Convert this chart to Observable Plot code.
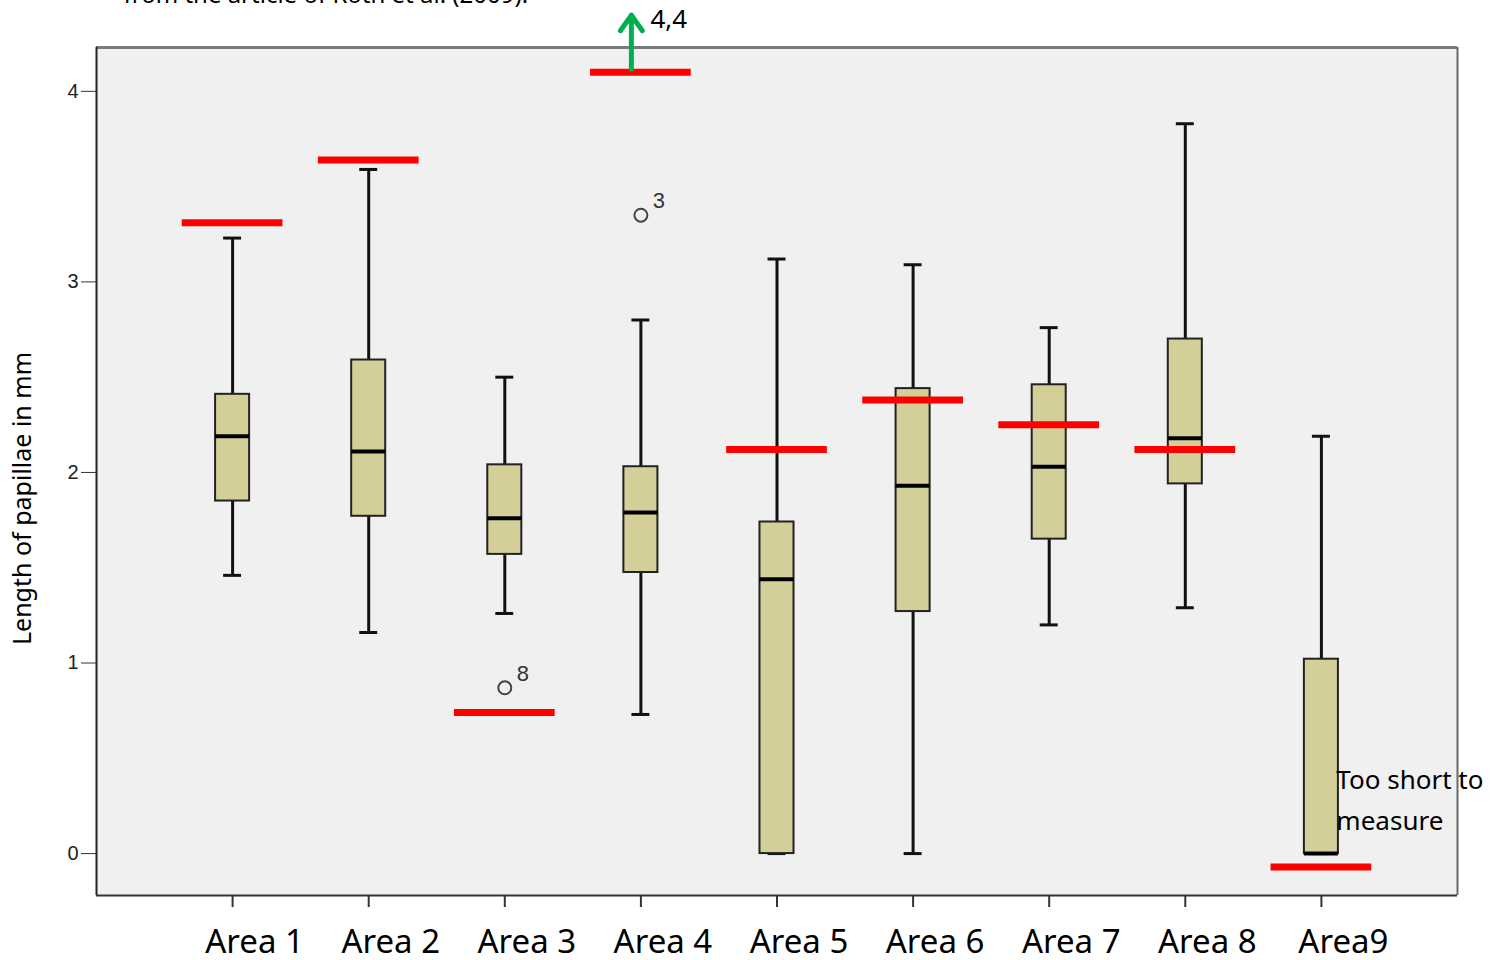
<!DOCTYPE html>
<html>
<head>
<meta charset="utf-8">
<script src="https://cdn.jsdelivr.net/npm/d3@7"></script>
<script src="https://cdn.jsdelivr.net/npm/@observablehq/plot@0.6"></script>
<style>
  html, body { margin: 0; padding: 0; background: #ffffff; overflow: hidden; }
  #chart svg { display: block; }
</style>
</head>
<body>
<div id="chart"></div>
<script>
// ---- data ----
const areas = ["Area 1", "Area 2", "Area 3", "Area 4", "Area 5", "Area 6", "Area 7", "Area 8", "Area9"];
const whiskerLow  = [1.46, 1.16, 1.26, 0.73, 0.00, 0.00, 1.20, 1.29, 0.00];
const quartile1   = [1.85, 1.77, 1.57, 1.475, 0.00, 1.27, 1.65, 1.94, 0.00];
const medians     = [2.19, 2.11, 1.76, 1.79, 1.44, 1.93, 2.03, 2.18, 0.00];
const quartile3   = [2.41, 2.59, 2.04, 2.03, 1.74, 2.44, 2.46, 2.70, 1.02];
const whiskerHigh = [3.23, 3.59, 2.50, 2.80, 3.12, 3.09, 2.76, 3.83, 2.19];
const referenceValues = [3.31, 3.64, 0.74, 4.10, 2.12, 2.38, 2.25, 2.12, -0.07];
const outlierArea  = [3, 4];
const outlierValue = [0.87, 3.35];
const outlierLabel = ["8", "3"];
const arrowArea = 4, arrowFrom = 4.10, arrowTo = 4.4, arrowLabel = "4,4";
const yTicks = [0, 1, 2, 3, 4];
const noteText = "Too short to\nmeasure";
const topNote = "from the article of Roth et al. (2009).";
const yTitle = "Length of papillae in mm";

const boxes = areas.map((name, k) => ({
  name, i: k + 1,
  low: whiskerLow[k], q1: quartile1[k], med: medians[k], q3: quartile3[k], high: whiskerHigh[k],
  ref: referenceValues[k]
}));
const outliers = outlierArea.map((a, k) => ({i: a, v: outlierValue[k], label: outlierLabel[k]}));

const W = 1494, H = 960;
const yMin = -0.22, yMax = 4.23;
const boxHalf = 0.125, capHalf = 0.066, refHalf = 0.37;
const FONT = "'Noto Sans', 'Open Sans', sans-serif";

const chart = Plot.plot({
  width: W, height: H,
  marginLeft: 96, marginRight: 37, marginTop: 47, marginBottom: 65,
  style: {background: "#ffffff", fontFamily: FONT, overflow: "visible"},
  x: {domain: [0, 10]},
  y: {domain: [yMin, yMax]},
  marks: [
    Plot.frame({fill: "#f0f0f0", stroke: null}),
    // frame edges
    Plot.ruleY([yMax], {stroke: "#7a7a7a", strokeWidth: 3}),
    Plot.ruleX([10], {stroke: "#6a6a6a", strokeWidth: 2}),
    Plot.ruleX([0], {stroke: "#222", strokeWidth: 2}),
    Plot.ruleY([yMin], {stroke: "#333", strokeWidth: 2}),
    // axes
    Plot.axisY({ticks: yTicks, tickSize: 15, tickPadding: 3, fontSize: 20, fill: "#222", stroke: "#333",
                tickFormat: d3.format("d"), label: null, fontFamily: "'Liberation Sans', Arial, sans-serif"}),
    Plot.axisX({ticks: d3.range(1, 10), tickSize: 12, tickFormat: () => "", stroke: "#333", strokeWidth: 2, label: null}),
    Plot.axisX({ticks: d3.range(1, 10), tickSize: 0, tickPadding: 34, fontSize: 33, fill: "#000",
                tickFormat: d => areas[d - 1], dx: 22, label: null}),
    Plot.text([topNote], {frameAnchor: "top-left", dx: 27, dy: -62, fontSize: 24, fill: "#000", textAnchor: "start"}),
    Plot.text([yTitle], {frameAnchor: "left", textAnchor: "middle", dx: -74, dy: 27, rotate: -90, fontSize: 25, fill: "#000"}),
    // whiskers
    Plot.ruleX(boxes, {x: "i", y1: "low", y2: "q1", stroke: "#111", strokeWidth: 3}),
    Plot.ruleX(boxes, {x: "i", y1: "q3", y2: "high", stroke: "#111", strokeWidth: 3}),
    Plot.ruleY(boxes, {y: "low", x1: d => d.i - capHalf, x2: d => d.i + capHalf, stroke: "#111", strokeWidth: 3}),
    Plot.ruleY(boxes, {y: "high", x1: d => d.i - capHalf, x2: d => d.i + capHalf, stroke: "#111", strokeWidth: 3}),
    // boxes
    Plot.rect(boxes, {x1: d => d.i - boxHalf, x2: d => d.i + boxHalf, y1: "q1", y2: "q3", fill: "#d4cf98", stroke: "#222", strokeWidth: 2}),
    Plot.ruleY(boxes, {y: "med", x1: d => d.i - boxHalf, x2: d => d.i + boxHalf, stroke: "#000", strokeWidth: 4}),
    // outliers
    Plot.dot(outliers, {x: "i", y: "v", r: 6.5, stroke: "#444", strokeWidth: 2, fill: "none"}),
    Plot.text(outliers, {x: "i", y: "v", text: "label", dx: 18, dy: -14, fontSize: 22, fill: "#333", fontFamily: "'Liberation Sans', Arial, sans-serif"}),
    // reference lines
    Plot.ruleY(boxes, {y: "ref", x1: d => d.i - refHalf, x2: d => d.i + refHalf, stroke: "#ff0000", strokeWidth: 7}),
    // arrow
    Plot.arrow([{x: arrowArea - 0.07, y1: arrowFrom, y2: arrowTo}], {x1: "x", x2: "x", y1: "y1", y2: "y2", stroke: "#00b050", strokeWidth: 5, headLength: 22, headAngle: 70, insetStart: 3}),
    Plot.text([arrowLabel], {x: arrowArea + 0.07, y: arrowTo, dy: 5, textAnchor: "start", fontSize: 26, fill: "#000"}),
    // note
    Plot.text([noteText], {x: 9.11, y: 0.30, textAnchor: "start", lineAnchor: "middle", lineHeight: 1.57, fontSize: 26, fill: "#000"})
  ]
});
document.getElementById("chart").appendChild(chart);
</script>
</body>
</html>
